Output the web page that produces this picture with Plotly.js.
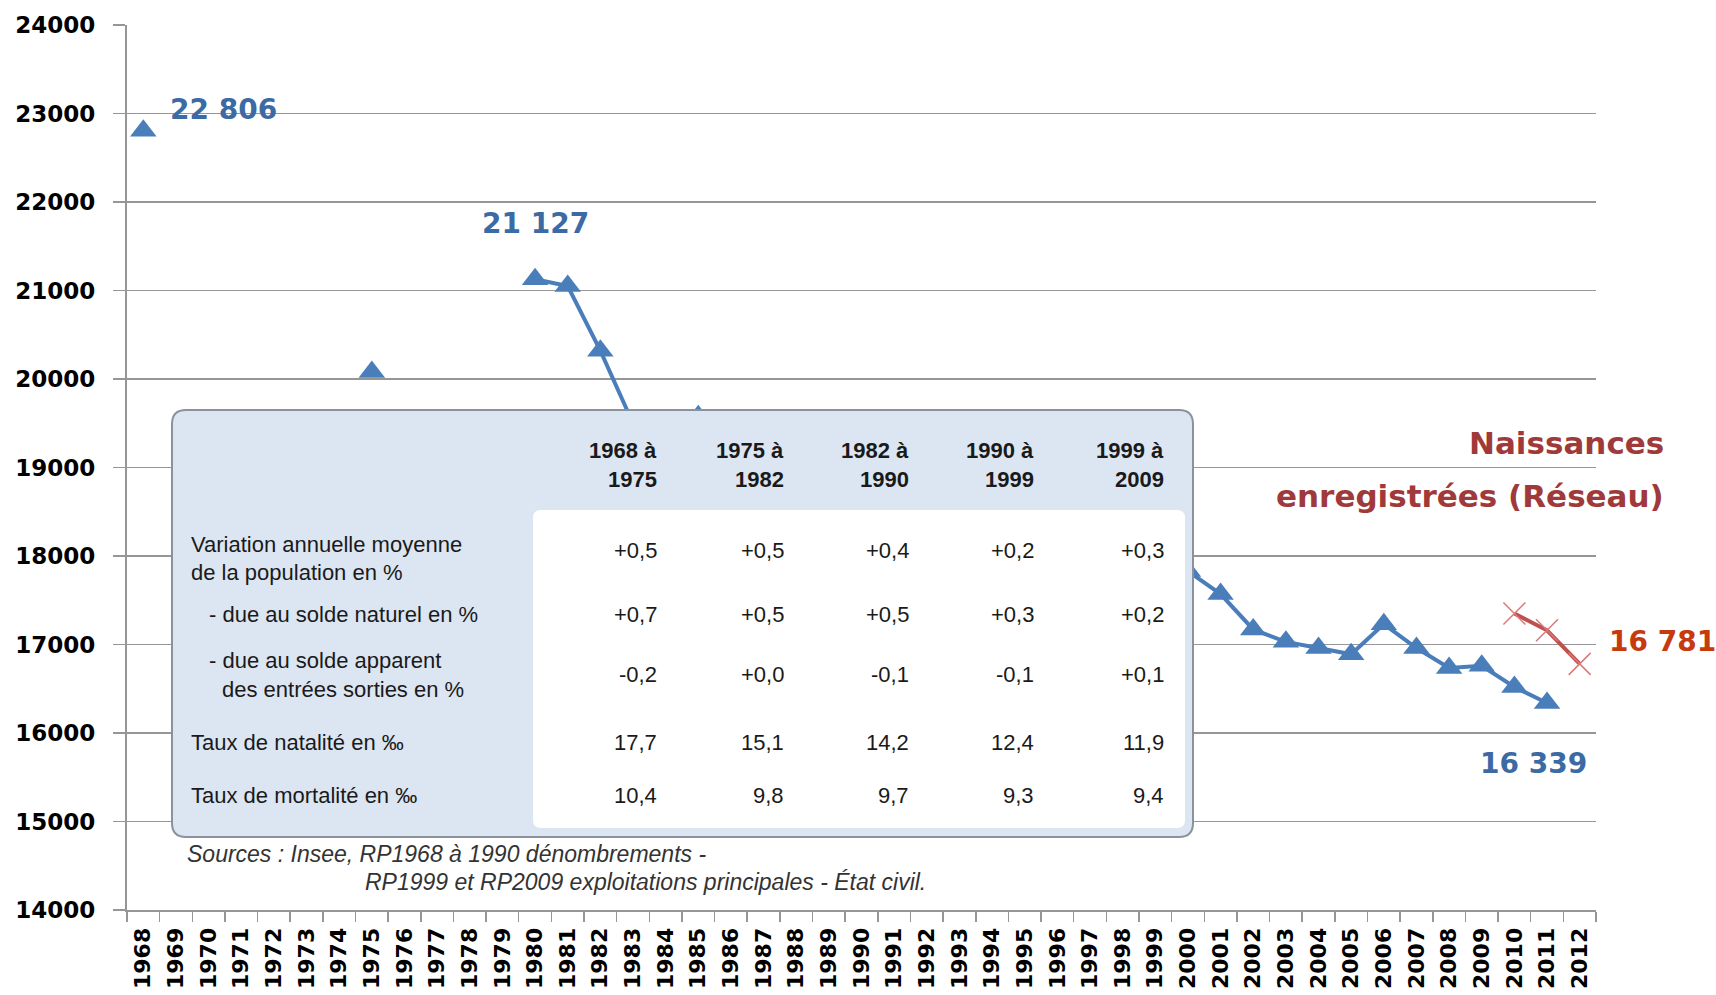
<!DOCTYPE html>
<html>
<head>
<meta charset="utf-8">
<script src="https://cdn.plot.ly/plotly-3.0.1.min.js"></script>
<style>
  html, body { margin: 0; padding: 0; background: #ffffff; }
  #chart { width: 1716px; height: 995px; }
</style>
</head>
<body>
<div id="chart"></div>
<script>
// ---------- DATA ----------
const years = ['1968','1969','1970','1971','1972','1973','1974','1975','1976','1977','1978','1979',
  '1980','1981','1982','1983','1984','1985','1986','1987','1988','1989','1990','1991','1992','1993',
  '1994','1995','1996','1997','1998','1999','2000','2001','2002','2003','2004','2005','2006','2007',
  '2008','2009','2010','2011','2012'];

// Population / births series (blue triangles); 1983-2000 mostly hidden under the table, estimated
const populationSeries = [22806, null, null, null, null, null, null, 20080, null, null, null, null,
  21127, 21050, 20320, 19500, 19450, 19580, 19300, 19150, 19000, 18850, 18700, 18600, 18450, 18300,
  18200, 18150, 18100, 18050, 17950, 17900, 17830, 17570, 17170, 17030, 16960, 16890, 17230, 16960,
  16735, 16760, 16520, 16339, null];

// Naissances enregistrées (Réseau) (red crosses)
const reseauSeries = [null, null, null, null, null, null, null, null, null, null, null, null,
  null, null, null, null, null, null, null, null, null, null, null, null, null, null,
  null, null, null, null, null, null, null, null, null, null, null, null, null, null,
  null, null, 17350, 17160, 16781];

const yTickVals = [14000,15000,16000,17000,18000,19000,20000,21000,22000,23000,24000];

// Table
const periodStart = ['1968 à','1975 à','1982 à','1990 à','1999 à'];
const periodEnd   = ['1975','1982','1990','1999','2009'];
const rowVariation = ['+0,5','+0,5','+0,4','+0,2','+0,3'];
const rowNaturel   = ['+0,7','+0,5','+0,5','+0,3','+0,2'];
const rowApparent  = ['-0,2','+0,0','-0,1','-0,1','+0,1'];
const rowNatalite  = ['17,7','15,1','14,2','12,4','11,9'];
const rowMortalite = ['10,4','9,8','9,7','9,3','9,4'];
const rowLabels = [
  'Variation annuelle moyenne', 'de la population en %',
  '- due au solde naturel en %',
  '- due au solde apparent', 'des entrées sorties en %',
  'Taux de natalité en ‰', 'Taux de mortalité en ‰'
];
const sourceLines = ['Sources : Insee, RP1968 à 1990 dénombrements -',
  'RP1999 et RP2009 exploitations principales - État civil.'];

// ---------- GEOMETRY HELPERS (pixels -> paper) ----------
const L = 127, T = 25, W = 1469, H = 885;
const FW = 1716, FH = 995;
const px = v => (v - L) / W;
const py = v => 1 - (v - T) / H;

function rrect(x0, y0, x1, y1, r) {
  const X = px, Y = py;
  return `M ${X(x0 + r)},${Y(y0)} L ${X(x1 - r)},${Y(y0)} Q ${X(x1)},${Y(y0)} ${X(x1)},${Y(y0 + r)} ` +
         `L ${X(x1)},${Y(y1 - r)} Q ${X(x1)},${Y(y1)} ${X(x1 - r)},${Y(y1)} ` +
         `L ${X(x0 + r)},${Y(y1)} Q ${X(x0)},${Y(y1)} ${X(x0)},${Y(y1 - r)} ` +
         `L ${X(x0)},${Y(y0 + r)} Q ${X(x0)},${Y(y0)} ${X(x0 + r)},${Y(y0)} Z`;
}

const blue = '#4a7ebb';
const red = '#c0504d';
const grid = '#969696';

const traces = [
  {
    type: 'scatter', mode: 'lines+markers', x: years, y: populationSeries,
    connectgaps: false, cliponaxis: false,
    line: { color: blue, width: 4 },
    marker: { symbol: 'triangle-up', size: 23, color: blue },
    hoverinfo: 'x+y'
  },
  {
    type: 'scatter', mode: 'lines+markers', x: years, y: reseauSeries,
    connectgaps: false, cliponaxis: false,
    line: { color: red, width: 4 },
    marker: { symbol: 'x-thin-open', size: 22, color: '#d9797a', line: { color: '#d9797a', width: 1.5 } },
    hoverinfo: 'x+y'
  }
];

const ann = [];
function addText(text, x, y, opts) {
  ann.push(Object.assign({
    xref: 'paper', yref: 'paper', x: px(x), y: py(y), text: text, showarrow: false,
    xanchor: 'left', yanchor: 'middle',
    font: { family: 'Liberation Sans, Arial, sans-serif', size: 22, color: '#1a1a1a' }
  }, opts || {}));
}

// Data labels
const lblFont = { family: 'DejaVu Sans, sans-serif', size: 28, color: '#3b6aa5', weight: 'bold' };
addText('22 806', 223, 109, { xanchor: 'center', font: lblFont });
addText('21 127', 535, 224, { xanchor: 'center', font: lblFont });
addText('16 339', 1533, 763, { xanchor: 'center', font: lblFont });
addText('16 781', 1662, 641, { xanchor: 'center', font: { family: 'DejaVu Sans, sans-serif', size: 28, color: '#c73a0e', weight: 'bold' } });

const serieFont = { family: 'DejaVu Sans, sans-serif', size: 31, color: '#a0393a', weight: 'bold' };
addText('Naissances', 1666, 443, { xanchor: 'right', font: serieFont });
addText('enregistrées (Réseau)', 1666, 496, { xanchor: 'right', font: serieFont });

// Table headers
const colRight = [659, 786, 911, 1036, 1166];
const hdrFont = { family: 'Liberation Sans, Arial, sans-serif', size: 22, color: '#1a1a1a', weight: 'bold' };
colRight.forEach((cx, i) => {
  addText(periodStart[i], cx, 450, { xanchor: 'right', font: hdrFont });
  addText(periodEnd[i], cx, 479, { xanchor: 'right', font: hdrFont });
});
// Row labels
const labelPos = [[189, 544], [189, 572], [207, 614], [207, 660], [220, 689], [189, 742], [189, 795]];
rowLabels.forEach((t, i) => addText(t, labelPos[i][0], labelPos[i][1]));
// Values
const rowsVals = [rowVariation, rowNaturel, rowApparent, rowNatalite, rowMortalite];
const rowY = [550, 614, 674, 742, 795];
rowsVals.forEach((row, r) => {
  row.forEach((v, i) => addText(v, colRight[i], rowY[r], { xanchor: 'right' }));
});
// Sources
const srcFont = { family: 'Liberation Sans, Arial, sans-serif', size: 23, color: '#333333', style: 'italic' };
addText(sourceLines[0], 185, 854, { font: srcFont });
addText(sourceLines[1], 363, 882, { font: srcFont });

const shapes = [
  { type: 'path', xref: 'paper', yref: 'paper', layer: 'above', path: rrect(172, 410, 1193, 837, 14),
    fillcolor: '#dce6f2', line: { color: '#8a939c', width: 2 } },
  { type: 'path', xref: 'paper', yref: 'paper', layer: 'above', path: rrect(533, 510, 1185, 828, 8),
    fillcolor: '#ffffff', line: { width: 0 } }
];

const layout = {
  width: FW, height: FH,
  margin: { l: L, r: FW - L - W, t: T, b: FH - T - H, pad: 0 },
  paper_bgcolor: '#ffffff', plot_bgcolor: '#ffffff',
  showlegend: false,
  xaxis: {
    type: 'category', categoryorder: 'array', categoryarray: years,
    range: [-0.5, years.length - 0.5],
    showgrid: false, zeroline: false,
    showline: true, linecolor: grid, linewidth: 2,
    ticks: 'outside', ticklen: 10, tickcolor: grid, tickwidth: 1.5, tickson: 'boundaries',
    tickangle: -90, ticklabelstandoff: 7,
    tickfont: { family: 'DejaVu Sans, sans-serif', size: 22, color: '#000000', weight: 'bold' },
    fixedrange: true
  },
  yaxis: {
    range: [14000, 24000], tickvals: yTickVals, tickformat: 'd',
    showgrid: true, gridcolor: grid, gridwidth: 1.5,
    zeroline: false, showline: true, linecolor: grid, linewidth: 2,
    ticks: 'outside', ticklen: 12, tickcolor: grid, tickwidth: 1.5,
    ticklabelstandoff: 13,
    tickfont: { family: 'DejaVu Sans, sans-serif', size: 23, color: '#000000', weight: 'bold' },
    fixedrange: true
  },
  shapes: shapes,
  annotations: ann
};

Plotly.newPlot('chart', traces, layout, { displayModeBar: false, staticPlot: true });
</script>
</body>
</html>
